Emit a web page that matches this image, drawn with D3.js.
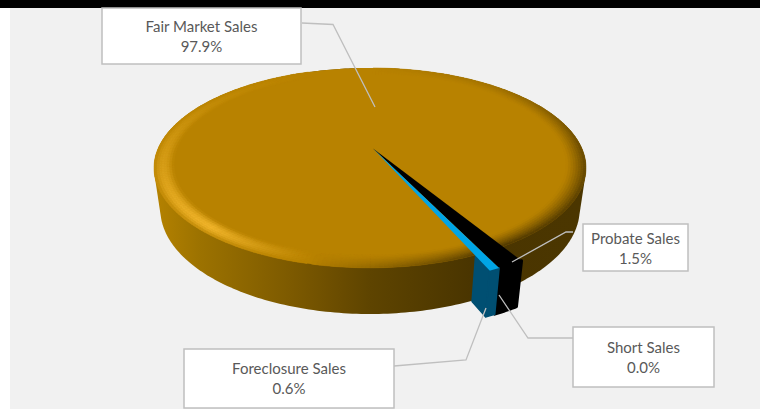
<!DOCTYPE html>
<html>
<head>
<meta charset="utf-8">
<script src="https://cdn.jsdelivr.net/npm/d3@7"></script>
<style>
  html, body { margin: 0; padding: 0; background: #fff; }
  svg { display: block; }
</style>
</head>
<body>
<div id="wrapper"></div>
<script>
const categories = ['Probate Sales', 'Short Sales', 'Foreclosure Sales', 'Fair Market Sales']
const shares = [1.5, 0.0, 0.6, 97.9]

function drawPie() {
  const width = 760
  const height = 409

  const wrapper = d3.select('#wrapper')
    .append('svg')
    .attr('width', width)
    .attr('height', height)

  wrapper.append('rect').attr('x', 10).attr('y', 0)
    .attr('width', width - 10).attr('height', height).attr('fill', '#f1f1f1')
  wrapper.append('rect').attr('width', width).attr('height', 8).attr('fill', '#000')

  // perspective of the disc: k tilts it, m shrinks the underside
  const view = { cx: 370, cy: 148.5, a: 211.9, b: 96.2, k: 0.194, m: 0.029, depth: 42 }
  const project = (angle, r, z = 0, shift = 0) => {
    const u = Math.sin(angle) * r
    const v = -Math.cos(angle) * r
    const w = 1 / (1 - view.k * v + view.m * z)
    return [view.cx + shift + view.a * u * w, view.cy + (view.b * v + view.depth * z) * w]
  }

  const deg = d3.scaleLinear().domain([0, 360]).range([0, 2 * Math.PI])
  const pie = d3.pie()
    .sort(null)
    .startAngle(deg(149))
    .endAngle(deg(149 + 360))
  const arcs = pie(shares)

  const line = d3.line().curve(d3.curveLinearClosed)
  const defs = wrapper.append('defs')
  const bounds = wrapper.append('g')
  const quad = (points, color) => bounds.append('path')
    .attr('d', line(points))
    .attr('fill', color)
    .attr('stroke', color)
    .attr('stroke-width', 0.5)

  const step = deg(1)
  const toDeg = a => ((a * 180 / Math.PI) % 360 + 360) % 360
  const discAngles = d3.range(0, deg(360), step)

  // outer wall, shaded left to right
  const wallStops = [
    [154, '#b58200'], [200, '#9c7200'], [290, '#7d5a00'], [340, '#6a4c00'],
    [370, '#5e4400'], [470, '#4a3500'], [586, '#4b3600'],
  ]
  const wallGradient = defs.append('linearGradient')
    .attr('id', 'wall')
    .attr('gradientUnits', 'userSpaceOnUse')
    .attr('x1', 154).attr('x2', 586).attr('y1', 0).attr('y2', 0)
  wallGradient.selectAll('stop')
    .data(wallStops)
    .enter().append('stop')
    .attr('offset', d => (d[0] - 154) / (586 - 154))
    .attr('stop-color', d => d[1])

  // silhouette of top and underside together
  const silhouette = d3.polygonHull(
    discAngles.map(a => project(a, 1, 0)).concat(discAngles.map(a => project(a, 1, 1)))
  )
  bounds.append('path')
    .attr('d', line(silhouette))
    .attr('fill', 'url(#wall)')

  // flat top of the disc, the small slices get painted over it
  const topColor = '#b88200'
  const rimInner = 0.91
  bounds.append('path')
    .attr('d', line(discAngles.map(a => project(a, 1))))
    .attr('fill', topColor)

  // bevel around the rim, lit from the lower left
  const lightAt = d3.scaleLinear()
    .domain([0, 40, 90, 150, 190, 222, 260, 300, 340, 360])
    .range([0, -0.2, -0.75, -1, -0.1, 1, 0.55, 0.2, 0, 0])
  const lighter = d3.interpolateRgb(topColor, '#f4b82e')
  const darker = d3.interpolateRgb(topColor, '#4a3500')
  const ringSteps = d3.range(0, 1, 1 / 8)

  discAngles.forEach(a => {
    const light = lightAt(toDeg(a))
    if (Math.abs(light) < 0.005) return
    ringSteps.forEach(t => {
      const r0 = rimInner + (1 - rimInner) * t
      const r1 = rimInner + (1 - rimInner) * (t + 1 / 8)
      const mid = t + 1 / 16
      const color = light > 0
        ? lighter(light * Math.sin(Math.PI * Math.pow(mid, 1.1)) * 0.85 + light * 0.15 * mid)
        : darker(-light * Math.pow(mid, 1.3))
      quad([project(a, r0), project(a + step, r0), project(a + step, r1), project(a, r1)], color)
    })
  })

  // the three small slices stick out of the disc
  const reach = 1.11
  const shift = 3
  const sliceAngles = d => d3.range(d.startAngle, d.endAngle, deg(0.4)).concat([d.endAngle])

  const drawSlice = (d, topFill, wallFill, edge) => {
    const angles = sliceAngles(d)
    const rim = angles.map(a => project(a, reach, 0, shift))
    const foot = angles.map(a => project(a, reach, 1, shift)).reverse()
    bounds.append('path')
      .attr('d', line(rim.concat(foot)))
      .attr('fill', wallFill)
      .attr('stroke', wallFill)
      .attr('stroke-width', edge)
      .attr('stroke-linejoin', 'round')
    bounds.append('path')
      .attr('d', line([[view.cx + shift, view.cy]].concat(rim)))
      .attr('fill', topFill)
  }

  // black one first, then the cut face and top of the blue one
  drawSlice(arcs[0], '#000', '#000', 3)

  const blue = arcs[2]
  bounds.append('path')
    .attr('d', line([
      project(blue.endAngle, 1, 0, shift),
      project(blue.endAngle, reach, 0, shift),
      project(blue.endAngle, reach, 1, shift),
      project(blue.endAngle, 1, 1, shift),
    ]))
    .attr('fill', '#004f72')
    .attr('stroke', '#004f72')
    .attr('stroke-width', 1.5)
    .attr('stroke-linejoin', 'round')
  drawSlice(blue, '#00a5e6', '#004f72', 1.5)

  // callouts
  const callouts = [
    { name: 'Fair Market Sales', box: [102, 8, 199, 56], text: [32, 52],
      leader: [[302, 23], [333, 24.5], [375, 107]] },
    { name: 'Probate Sales', box: [583, 224, 105, 47], text: [244, 264],
      leader: [[573, 232], [566, 232], [512, 262]] },
    { name: 'Short Sales', box: [573, 327, 141, 60], text: [353, 373],
      leader: [[577, 338], [528, 338], [499, 295]] },
    { name: 'Foreclosure Sales', box: [184, 349, 210, 59], text: [374, 394],
      leader: [[394, 366], [466, 360], [486, 308]] },
  ]

  const leaderLine = d3.line()
  callouts.forEach(c => {
    wrapper.append('path')
      .attr('d', leaderLine(c.leader))
      .attr('fill', 'none')
      .attr('stroke', '#bfbfbf')
      .attr('stroke-width', 1.3)
  })
  callouts.forEach(c => {
    const share = shares[categories.indexOf(c.name)]
    const [x, y, w, h] = c.box
    wrapper.append('rect')
      .attr('x', x).attr('y', y)
      .attr('width', w).attr('height', h)
      .attr('fill', '#fff')
      .attr('stroke', '#bfbfbf')
      .attr('stroke-width', 1.5)
    const label = wrapper.append('g')
      .attr('font-family', 'Lato, "Open Sans", sans-serif')
      .attr('font-size', 15)
      .attr('fill', '#595959')
      .attr('text-anchor', 'middle')
    label.append('text').attr('x', x + w / 2).attr('y', c.text[0]).text(c.name)
    label.append('text').attr('x', x + w / 2).attr('y', c.text[1]).text(`${share.toFixed(1)}%`)
  })
}

drawPie()
</script>
</body>
</html>
